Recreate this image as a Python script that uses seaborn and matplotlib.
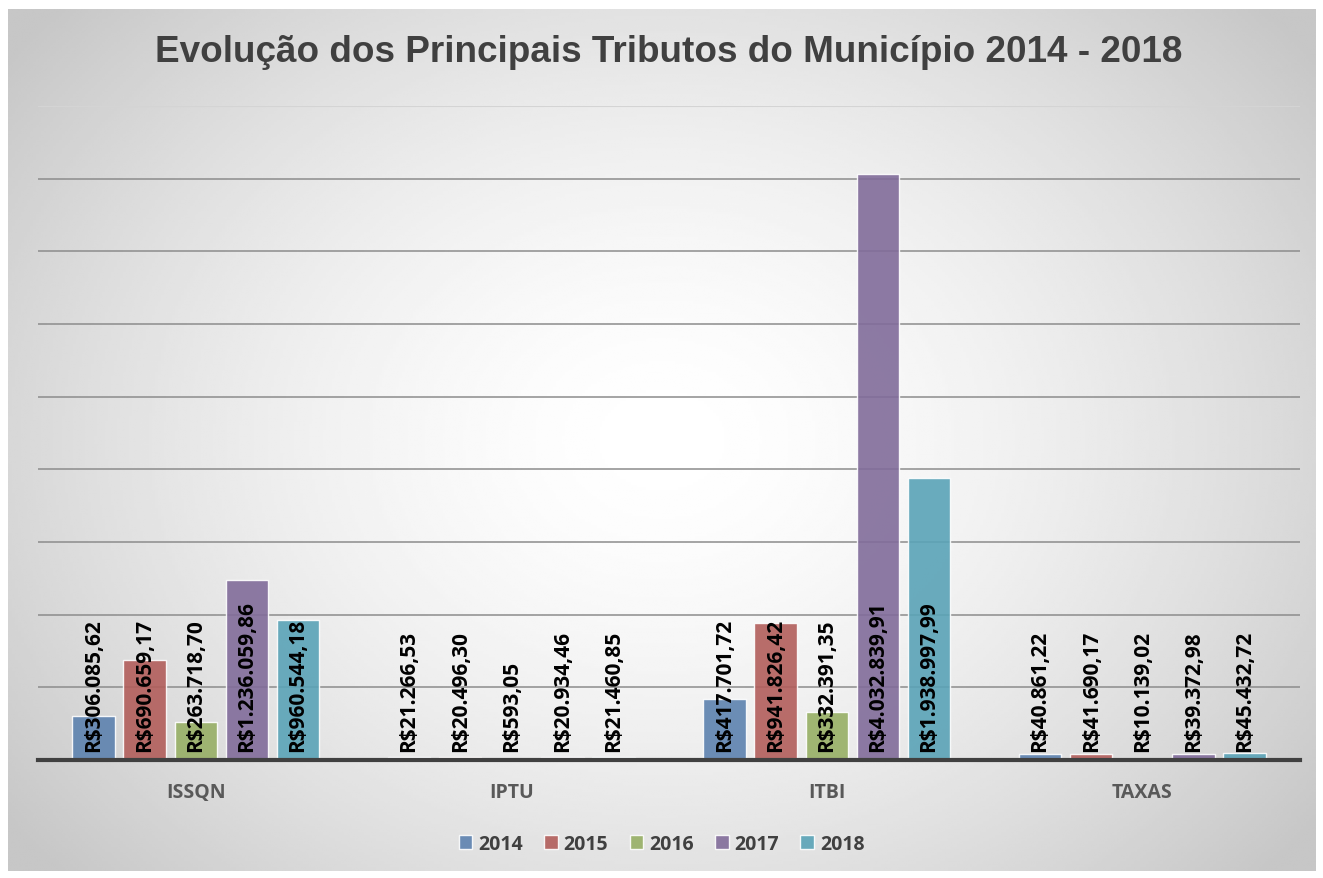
import numpy as np
import pandas as pd
import matplotlib
matplotlib.use("Agg")
import matplotlib.pyplot as plt
import seaborn as sns

# dados (R$)
tributos = ["ISSQN", "IPTU", "ITBI", "TAXAS"]
anos = ["2014", "2015", "2016", "2017", "2018"]
v2014 = [306085.62, 21266.53, 417701.72, 40861.22]
v2015 = [690659.17, 20496.30, 941826.42, 41690.17]
v2016 = [263718.70, 593.05, 332391.35, 10139.02]
v2017 = [1236059.86, 20934.46, 4032839.91, 39372.98]
v2018 = [960544.18, 21460.85, 1938997.99, 45432.72]
cores = ["#4F81BD", "#C0504D", "#9BBB59", "#8064A2", "#4BACC6"]

series = [v2014, v2015, v2016, v2017, v2018]
rows = []
for ano, vals in zip(anos, series):
    for t, v in zip(tributos, vals):
        rows.append({"Tributo": t, "Ano": ano, "Valor": v})
df = pd.DataFrame(rows)


def brl(v):
    s = f"{v:,.2f}"
    s = s.replace(",", "X").replace(".", ",").replace("X", ".")
    return "R$" + s


sns.set_style("white")
plt.rcParams["font.family"] = ["Open Sans", "DejaVu Sans"]

fig = plt.figure(figsize=(13.23, 8.79), dpi=100)

# fundo com gradiente radial
bg = fig.add_axes([8 / 1323, 7 / 879, 1308 / 1323, 862 / 879], zorder=-5)
yy, xx = np.mgrid[0:1:300j, 0:1:450j]
r = np.sqrt(((xx - 0.5) / 0.62) ** 2 + ((yy - 0.5) / 0.75) ** 2)
r = np.clip(r, 0, 1)
bg.imshow(1 - 0.22 * r ** 1.6, cmap="gray", vmin=0, vmax=1, aspect="auto",
          extent=[0, 1, 0, 1], interpolation="bilinear")
bg.axis("off")

ax = fig.add_axes([38 / 1323, 118 / 879, 1262 / 1323, 654 / 879])
ax.set_facecolor("none")

sns.barplot(data=df, x="Tributo", y="Valor", hue="Ano", palette=cores,
            width=0.81, gap=0.17, alpha=0.9, edgecolor="white",
            linewidth=1, ax=ax, zorder=3)

ax.set_ylim(0, 4500000)
ax.set_yticks(np.arange(0, 4000001, 500000))
ax.set_yticklabels([])
ax.yaxis.grid(True, color="#8c8c8c", linewidth=1.1, zorder=0)
ax.axhline(4500000, color="#d4d4d4", linewidth=1.5, zorder=0)
ax.set_axisbelow(True)
ax.tick_params(axis="both", length=0)
ax.tick_params(axis="x", pad=16)
for lab in ax.get_xticklabels():
    lab.set_fontweight("bold")
    lab.set_fontsize(14)
    lab.set_color("#595959")
ax.set_xlabel("")
ax.set_ylabel("")
for s in ["top", "right", "left"]:
    ax.spines[s].set_visible(False)
ax.spines["bottom"].set_color("#404040")
ax.spines["bottom"].set_linewidth(3)
ax.spines["bottom"].set_zorder(4)

# rótulos de dados
for cont, vals in zip(ax.containers, series):
    for bar, v in zip(cont, vals):
        ax.text(bar.get_x() + bar.get_width() / 2, 60000, brl(v),
                rotation=90, ha="center", va="bottom", fontsize=15,
                fontweight="bold", color="black", zorder=5)

leg = ax.legend(loc="center", bbox_to_anchor=(0.5, 0.039),
                bbox_transform=fig.transFigure, ncol=5, frameon=False,
                handlelength=0.7, handleheight=0.7, handletextpad=0.3,
                columnspacing=1.1, fontsize=14)
for t in leg.get_texts():
    t.set_fontweight("bold")
    t.set_color("#404040")

fig.text(669 / 1323, 1 - 53 / 879, "Evolução dos Principais Tributos do Município 2014 - 2018",
         ha="center", va="center", fontsize=26.6, fontweight="bold",
         color="#404040", family=["Liberation Sans", "DejaVu Sans"])

fig.savefig("out.png", dpi=100)
